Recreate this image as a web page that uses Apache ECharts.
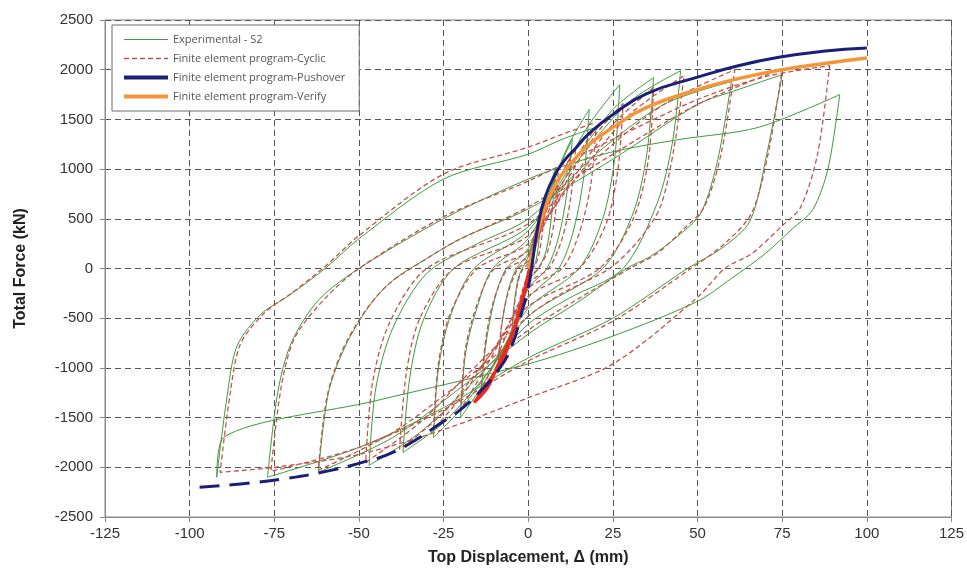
<!DOCTYPE html>
<html>
<head>
<meta charset="utf-8">
<script src="https://cdn.jsdelivr.net/npm/echarts@6/dist/echarts.min.js"></script>
<style>
  html, body { margin: 0; padding: 0; background: #fff; }
  #chart { width: 967px; height: 573px; }
</style>
</head>
<body>
<div id="chart"></div>
<script>
// axis ranges
var xTicks = { min: -125, max: 125, step: 25 };
var yTicks = { min: -2500, max: 2500, step: 500 };

// Experimental - S2 (green), one continuous hysteresis path [disp mm, force kN]
var experimental = [
  [0,0],[2,350],[4,650],
  [3.4,350],[2.3,80],[1.2,0],[0,-80],[-2,-300],[-4,-560],[-5,-750],
  [-4.3,-400],[-3,-100],[-1.8,0],[0,120],[3,450],[6,800],[8,1000],
  [7,560],[5.3,180],[3,0],[0,-130],[-3,-450],[-6,-780],[-9,-1050],
  [-8,-620],[-6,-230],[-3.5,0],[0,150],[5,620],[9,1000],[13,1300],
  [11.5,780],[9,320],[5.5,0],[0,-200],[-5,-650],[-10,-1020],[-14,-1300],
  [-12.5,-760],[-10,-320],[-6.5,0],[0,200],[6,750],[12,1250],[18,1600],
  [16.5,950],[13.5,400],[9,0],[0,-300],[-7,-780],[-14,-1200],[-20,-1500],
  [-18.5,-850],[-15,-380],[-10.5,0],[0,300],[9,900],[18,1450],[27,1850],
  [25.5,1100],[22,500],[15,0],[0,-400],[-10,-950],[-20,-1420],[-28,-1700],
  [-26.5,-1000],[-23,-480],[-16,0],[0,380],[12,1000],[25,1600],[37,1920],
  [35,1150],[31,560],[22,0],[0,-480],[-12,-1050],[-25,-1550],[-37,-1850],
  [-35,-1100],[-31,-520],[-22,0],[0,420],[15,1100],[30,1680],[45,1990],
  [42.5,1250],[38,650],[28,0],[12,-300],[0,-560],[-15,-1100],[-32,-1650],[-47,-1980],
  [-45,-1200],[-40,-600],[-30,-50],[-15,250],[0,500],[20,1150],[40,1650],[60,1880],
  [56,1100],[51,560],[44,320],[36,120],[29,0],[15,-330],[0,-660],[-20,-1200],[-40,-1700],[-62,-2050],
  [-59,-1250],[-54,-780],[-47,-380],[-40,-120],[-29,120],[-20,300],[0,600],[25,1100],[50,1650],[62,1800],[75,1950],
  [70.5,1160],[65.5,480],[57,200],[47,0],[25,-500],[0,-900],[-25,-1400],[-50,-1800],[-77,-2100],
  [-74,-1250],[-70,-750],[-62,-320],[-50,0],[-25,500],[0,900],[15,1080],[27,1190],[45,1300],[68,1420],[92,1750],
  [88.5,1000],[84,590],[78,400],[70,150],[60,-100],[50,-330],[25,-680],[0,-960],[-45,-1330],[-90,-1700],[-92,-2100],
  [-89,-1300],[-86,-780],[-79,-460],[-71,-280],[-60,0],[-50,300],[-25,900],[0,1150],[10,1300],[20,1420]
];

// Finite element program-Cyclic (red dashed)
var cyclic = [
  [0,0],[2,350],[5,720],
  [4.3,400],[3,120],[1.5,0],[0,-60],[-2,-250],[-4,-550],[-5,-790],
  [-4.3,-430],[-3,-130],[-1.5,0],[0,50],[3,350],[6,700],[9,960],
  [8,550],[6,200],[3,0],[0,-100],[-3,-400],[-6,-750],[-9,-1030],
  [-8,-600],[-6,-250],[-3,0],[0,80],[5,550],[10,950],[14,1210],
  [12.5,700],[10,300],[6,0],[0,-150],[-5,-550],[-10,-950],[-14,-1230],
  [-12.5,-700],[-10,-300],[-6,0],[0,120],[7,650],[14,1100],[20,1430],
  [18.5,850],[15,350],[10,0],[0,-200],[-7,-650],[-14,-1080],[-20,-1420],
  [-18.5,-800],[-15,-350],[-10,0],[0,180],[10,800],[20,1350],[28,1660],
  [26.5,1000],[23,450],[15,0],[0,-280],[-10,-800],[-20,-1300],[-28,-1620],
  [-26.5,-950],[-23,-450],[-15,0],[0,250],[12,850],[25,1450],[37,1820],
  [35.5,1100],[31,500],[21,0],[0,-380],[-12,-900],[-25,-1450],[-38,-1820],
  [-36,-1050],[-32,-500],[-22,0],[0,330],[15,950],[30,1550],[46,1940],
  [43,1200],[39,620],[33,300],[24,0],[10,-250],[0,-480],[-16,-1000],[-32,-1550],[-48,-1950],
  [-46,-1150],[-41,-550],[-30,0],[0,450],[20,1100],[40,1650],[61,2000],
  [57,1160],[52,620],[46,400],[38,150],[30,0],[15,-300],[0,-620],[-20,-1150],[-40,-1650],[-62,-2030],
  [-59.5,-1300],[-55,-830],[-48,-420],[-41,-150],[-30,100],[-21,280],[0,620],[25,1150],[50,1650],[75,2010],
  [71,1180],[66,560],[58,250],[48,0],[25,-530],[0,-930],[-25,-1420],[-50,-1800],[-76,-2040],
  [-73,-1200],[-69,-700],[-60,-300],[-50,0],[-25,520],[0,880],[25,1300],[50,1700],[70,1930],[89,2040],
  [85.5,1160],[80.5,620],[75,430],[66,150],[58,0],[50,-290],[25,-960],[0,-1300],[-25,-1620],[-50,-1870],[-75,-2000],[-91,-2050],
  [-88,-1250],[-85,-760],[-78,-450],[-70,-250],[-60,20],[-50,330],[-25,950],[0,1220],[10,1350],[20,1470]
];

// small FE cycles near the origin (bright red)
var cyclicCore = [
  [-16,-1350],[-12,-1150],[-8,-950],[-5,-700],[-2,-350],[0,-50],[3,350],[6,700],
  [3,400],[0,-100],[-4,-600],[-8,-900],[-12,-1200],[-16,-1350]
];

// Finite element program-Pushover (navy), positive solid / negative dashed
var pushoverPos = [
  [1,0],[3,450],[5,720],[8,950],[11,1100],[14,1210],[18,1360],[25,1550],
  [35,1760],[50,1925],[62,2040],[74,2125],[87,2185],[100,2218]
];
var pushoverNeg = [
  [1,0],[0,-190],[-2,-450],[-5,-790],[-9,-1030],[-14,-1230],[-20,-1420],[-26,-1560],
  [-33,-1720],[-41,-1865],[-50,-1960],[-59,-2036],[-72,-2115],[-85,-2168],[-100,-2208]
];

// Finite element program-Verify (orange)
var verify = [
  [0,0],[2,250],[4,500],[7,780],[10,950],[14,1110],[18,1250],[25,1420],
  [35,1620],[50,1800],[62,1910],[75,2000],[88,2065],[100,2117]
];

var chartDom = document.getElementById('chart');
var myChart = echarts.init(chartDom);

var axisFont = 'Liberation Sans, Arial, sans-serif';
var plainNumber = function (v) { return String(v); };

var option = {
  animation: false,
  backgroundColor: '#fff',
  grid: {
    left: 105, right: 15, top: 20, bottom: 56,
    show: true, borderColor: '#8a8a8a', borderWidth: 1
  },
  legend: {
    orient: 'vertical',
    left: 112, top: 25,
    padding: [9, 14, 9, 10],
    itemWidth: 44, itemHeight: 12, itemGap: 8,
    backgroundColor: '#fff',
    borderColor: '#6a6a6a', borderWidth: 1,
    itemStyle: { opacity: 0 },
    textStyle: { fontFamily: 'Open Sans, sans-serif', fontSize: 11, color: '#555' },
    data: [
      { name: 'Experimental - S2', lineStyle: { color: '#3c9a3c', width: 1 } },
      { name: 'Finite element program-Cyclic', lineStyle: { color: '#c4524c', width: 1.5, type: [5, 3] } },
      { name: 'Finite element program-Pushover', lineStyle: { color: '#1c1f78', width: 4 } },
      { name: 'Finite element program-Verify', lineStyle: { color: '#f5953a', width: 4 } }
    ]
  },
  xAxis: {
    type: 'value',
    min: xTicks.min, max: xTicks.max, interval: xTicks.step,
    name: 'Top Displacement, Δ (mm)',
    nameLocation: 'middle', nameGap: 33,
    nameTextStyle: { fontFamily: axisFont, fontSize: 16, fontWeight: 'bold', color: '#222' },
    axisLine: { show: true, onZero: false, lineStyle: { color: '#8a8a8a' } },
    axisTick: { show: true, length: 5, lineStyle: { color: '#8a8a8a' } },
    axisLabel: { fontFamily: 'Liberation Sans Narrow, Liberation Sans, sans-serif', fontSize: 15, color: '#333', margin: 9, formatter: plainNumber },
    splitLine: { show: true, lineStyle: { color: '#555', type: [6, 4], width: 1 } }
  },
  yAxis: {
    type: 'value',
    min: yTicks.min, max: yTicks.max, interval: yTicks.step,
    name: 'Total Force (kN)',
    nameLocation: 'middle', nameGap: 76,
    nameTextStyle: { fontFamily: axisFont, fontSize: 16, fontWeight: 'bold', color: '#222' },
    axisLine: { show: true, onZero: false, lineStyle: { color: '#8a8a8a' } },
    axisTick: { show: true, length: 5, lineStyle: { color: '#8a8a8a' } },
    axisLabel: { fontFamily: axisFont, fontSize: 15, color: '#333', margin: 12, formatter: plainNumber },
    splitLine: { show: true, lineStyle: { color: '#555', type: [6, 4], width: 1 } }
  },
  series: [
    {
      name: 'Experimental - S2', type: 'line', data: experimental,
      showSymbol: false, symbol: 'none', smooth: 0.3,
      lineStyle: { color: '#3c9a3c', width: 1 }, itemStyle: { color: '#3c9a3c' }, z: 2
    },
    {
      name: 'Finite element program-Cyclic', type: 'line', data: cyclic,
      showSymbol: false, symbol: 'none', smooth: 0.3,
      lineStyle: { color: '#c4524c', width: 1.3, type: [5, 3] }, itemStyle: { color: '#c4524c' }, z: 3
    },
    {
      name: 'cyclic-core', type: 'line', data: cyclicCore,
      showSymbol: false, symbol: 'none', smooth: 0.3,
      lineStyle: { color: '#ee2a1a', width: 3 }, z: 4
    },
    {
      name: 'Finite element program-Verify', type: 'line', data: verify,
      showSymbol: false, symbol: 'none', smooth: true,
      lineStyle: { color: '#f5953a', width: 3.5 }, itemStyle: { color: '#f5953a' }, z: 5
    },
    {
      name: 'Finite element program-Pushover', type: 'line', data: pushoverPos,
      showSymbol: false, symbol: 'none', smooth: true,
      lineStyle: { color: '#1c1f78', width: 3 }, itemStyle: { color: '#1c1f78' }, z: 6
    },
    {
      name: 'pushover-neg', type: 'line', data: pushoverNeg,
      showSymbol: false, symbol: 'none', smooth: true,
      lineStyle: { color: '#1c1f78', width: 3, type: [20, 10] }, z: 6
    }
  ]
};

option && myChart.setOption(option);
</script>
</body>
</html>
